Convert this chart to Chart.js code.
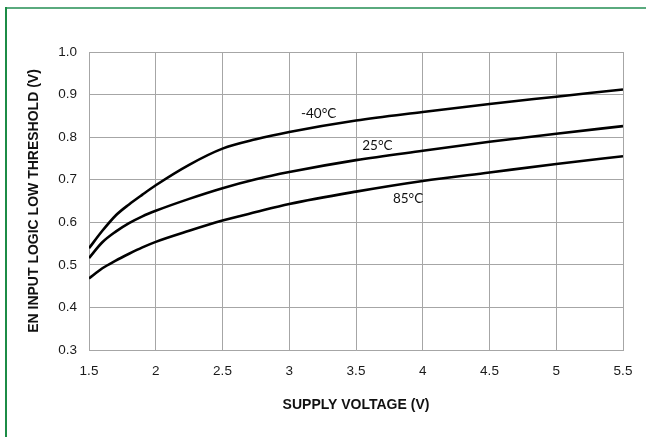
<!DOCTYPE html>
<html>
<head>
<meta charset="utf-8">
<style>
  html, body { margin: 0; padding: 0; background: #ffffff; }
  #wrap { position: relative; width: 646px; height: 437px; }
  canvas { display: block; }
</style>
<script src="https://cdn.jsdelivr.net/npm/chart.js@4/dist/chart.umd.min.js"></script>
</head>
<body>
<div id="wrap"><canvas id="c" width="646" height="437"></canvas></div>
<script>
// ---- data ----
const supplyVoltage = [1.5, 1.6, 1.7, 1.8, 1.9, 2.0, 2.25, 2.5, 2.75, 3.0, 3.5, 4.0, 4.5, 5.0, 5.5];
const thresholdMinus40 = [0.539, 0.580, 0.616, 0.642, 0.665, 0.687, 0.735, 0.773, 0.795, 0.812, 0.839, 0.859, 0.878, 0.895, 0.912];
const threshold25     = [0.516, 0.553, 0.578, 0.598, 0.614, 0.627, 0.655, 0.680, 0.701, 0.718, 0.746, 0.768, 0.789, 0.808, 0.826];
const threshold85     = [0.468, 0.492, 0.510, 0.526, 0.541, 0.554, 0.580, 0.604, 0.624, 0.643, 0.672, 0.697, 0.717, 0.737, 0.755];
const seriesNames = ['-40°C', '25°C', '85°C'];
const xTickValues = [1.5, 2, 2.5, 3, 3.5, 4, 4.5, 5, 5.5];
const yTickValues = [0.3, 0.4, 0.5, 0.6, 0.7, 0.8, 0.9, 1.0];
// curve label anchors, in data units (x = V, y = V)
const labelAnchorX = [3.22, 3.66, 3.89];
const labelAnchorY = [0.855, 0.780, 0.6555];

const xTitle = 'SUPPLY VOLTAGE (V)';
const yTitle = 'EN INPUT LOGIC LOW THRESHOLD (V)';

function pts(ys) { return supplyVoltage.map((x, i) => ({ x: x, y: ys[i] })); }

const lineStyle = {
  borderColor: '#000000',
  borderWidth: 2.6,
  pointRadius: 0,
  fill: false,
  cubicInterpolationMode: 'monotone'
};

const curveLabels = {
  id: 'curveLabels',
  afterDatasetsDraw(chart) {
    const { ctx, scales } = chart;
    ctx.save();
    ctx.font = '13.5px Lato, "Open Sans", sans-serif';
    ctx.fillStyle = '#111111';
    ctx.textAlign = 'center';
    ctx.textBaseline = 'middle';
    seriesNames.forEach((name, i) => {
      ctx.fillText(name, scales.x.getPixelForValue(labelAnchorX[i]), scales.y.getPixelForValue(labelAnchorY[i]));
    });
    ctx.restore();
  }
};

const frame = {
  id: 'frame',
  afterDraw(chart) {
    const ctx = chart.ctx;
    ctx.save();
    ctx.lineWidth = 2;
    ctx.strokeStyle = '#5aaa7e';
    ctx.beginPath(); ctx.moveTo(5, 8); ctx.lineTo(646, 8); ctx.stroke();
    ctx.strokeStyle = '#1c8c46';
    ctx.beginPath(); ctx.moveTo(6, 7); ctx.lineTo(6, 437); ctx.stroke();
    ctx.restore();
  }
};

new Chart(document.getElementById('c'), {
  type: 'line',
  data: {
    datasets: [
      Object.assign({ label: seriesNames[0], data: pts(thresholdMinus40) }, lineStyle),
      Object.assign({ label: seriesNames[1], data: pts(threshold25) }, lineStyle),
      Object.assign({ label: seriesNames[2], data: pts(threshold85) }, lineStyle)
    ]
  },
  options: {
    responsive: false,
    animation: false,
    devicePixelRatio: 1,
    layout: { padding: { left: 0, top: 52, right: 23, bottom: 0 } },
    plugins: { legend: { display: false }, tooltip: { enabled: false } },
    scales: {
      x: {
        type: 'linear',
        min: 1.5, max: 5.5,
        afterFit(s) { s.height = 87; },
        afterBuildTicks(s) { s.ticks = xTickValues.map(v => ({ value: v })); },
        grid: { color: '#a6a6a6', lineWidth: 1, drawTicks: false },
        border: { color: '#a6a6a6', width: 1 },
        ticks: {
          padding: 13,
          color: '#1a1a1a',
          font: { family: '"Liberation Sans", Arial, sans-serif', size: 13.5 },
          callback: v => String(v)
        },
        title: {
          display: true,
          text: xTitle,
          color: '#111111',
          font: { family: '"Liberation Sans", Arial, sans-serif', size: 14, weight: 'bold' },
          padding: { top: 0, bottom: 23 }
        }
      },
      y: {
        type: 'linear',
        min: 0.3, max: 1.0,
        afterFit(s) { s.width = 89; },
        afterBuildTicks(s) { s.ticks = yTickValues.map(v => ({ value: v })); },
        grid: { color: '#a6a6a6', lineWidth: 1, drawTicks: false },
        border: { color: '#a6a6a6', width: 1 },
        ticks: {
          padding: 12,
          color: '#1a1a1a',
          font: { family: '"Liberation Sans", Arial, sans-serif', size: 13.5 },
          callback: v => Number(v).toFixed(1)
        },
        title: {
          display: true,
          text: yTitle,
          color: '#111111',
          font: { family: '"Liberation Sans", Arial, sans-serif', size: 14, weight: 'bold' },
          padding: { top: 26, bottom: 0 }
        }
      }
    }
  },
  plugins: [curveLabels, frame]
});
</script>
</body>
</html>
